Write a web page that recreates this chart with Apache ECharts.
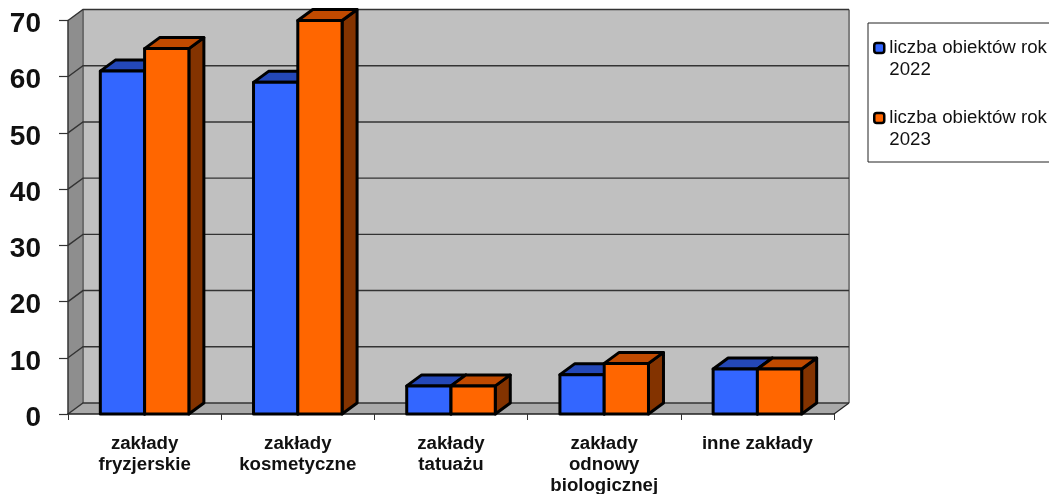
<!DOCTYPE html>
<html><head><meta charset="utf-8">
<style>html,body{margin:0;padding:0;background:#fff}#c{width:1049px;height:494px}</style>
<script src="https://cdn.jsdelivr.net/npm/echarts@6/dist/echarts.min.js"></script>
</head><body><div id="c"></div>
<script>
const categories = ['zakłady\nfryzjerskie','zakłady\nkosmetyczne','zakłady\ntatuażu','zakłady\nodnowy\nbiologicznej','inne zakłady'];
const values2022 = [61,59,5,7,8];
const values2023 = [65,70,5,9,8];
const gridValues = [0,10,20,30,40,50,60,70];
const name2022 = 'liczba obiektów rok\n2022';
const name2023 = 'liczba obiektów rok\n2023';
const DX = 15, DY = -11;
const FONT = '"Liberation Sans", Arial, sans-serif';

function extent(api){
  const band = api.size([1,0])[0];
  const a = api.coord([0,0]), b = api.coord([categories.length-1,0]), t = api.coord([0,70]);
  return {x0:a[0]-band/2, x1:b[0]+band/2, y0:a[1], yT:t[1]};
}
function poly(pts, fill, stroke, w){
  return {type:'polygon', shape:{points:pts}, style:{fill:fill, stroke:stroke||null, lineWidth:w||0, lineJoin:'round'}};
}
function line(pts, stroke, w){
  return {type:'polyline', shape:{points:pts}, style:{fill:null, stroke:stroke, lineWidth:w}};
}
function wallsItem(params, api){
  const e = extent(api);
  return {type:'group', children:[
    poly([[e.x0+DX,e.yT+DY],[e.x1+DX,e.yT+DY],[e.x1+DX,e.y0+DY],[e.x0+DX,e.y0+DY]], '#c0c0c0'),
    poly([[e.x0,e.yT],[e.x0+DX,e.yT+DY],[e.x0+DX,e.y0+DY],[e.x0,e.y0]], '#8e8e8e'),
    poly([[e.x0,e.y0],[e.x0+DX,e.y0+DY],[e.x1+DX,e.y0+DY],[e.x1,e.y0]], '#a9a9a9'),
    line([[e.x0+DX,e.yT+DY],[e.x0+DX,e.y0+DY]], '#6c6c6c', 2),
    line([[e.x1+DX,e.yT+DY],[e.x1+DX,e.y0+DY]], '#808080', 2),
    line([[e.x1,e.y0],[e.x1+DX,e.y0+DY]], '#222', 1.2)
  ]};
}
function gridItem(params, api){
  const e = extent(api);
  const y = api.coord([0,api.value(0)])[1];
  return line([[e.x0,y],[e.x0+DX,y+DY],[e.x1+DX,y+DY]], '#333', 1.4);
}
function barItem(idx, color, topCol, sideCol){
  return function(params, api){
    const cat = api.value(0), v = api.value(1);
    const band = api.size([1,0])[0];
    const bw = band * 0.289;
    const c = api.coord([cat,v]), z = api.coord([cat,0]);
    const l = c[0] - bw + idx*bw, r = l + bw, t = c[1], b = z[1];
    const S = '#000', W = 3;
    return {type:'group', children:[
      poly([[r,b],[r+DX,b+DY],[r+DX,t+DY],[r,t]], sideCol, S, W),
      poly([[l,t],[l+DX,t+DY],[r+DX,t+DY],[r,t]], topCol, S, W),
      poly([[l,t],[r,t],[r,b],[l,b]], color, S, W)
    ]};
  };
}
const chart = echarts.init(document.getElementById('c'), null, {renderer:'canvas'});
chart.setOption({
  animation:false,
  backgroundColor:'#fff',
  textStyle:{fontFamily:FONT},
  graphic:[{type:'rect', z:-1, shape:{x:868,y:23,width:200,height:139}, style:{fill:'#fff',stroke:'#222',lineWidth:1}}],
  grid:{left:68,right:215,top:20.5,bottom:80,containLabel:false,outerBoundsMode:'none'},
  xAxis:{type:'category',data:categories,z:1,
    axisLine:{show:true,lineStyle:{color:'#222',width:1.5}},
    axisTick:{show:true,alignWithLabel:false,length:6,lineStyle:{color:'#333',width:1}},
    axisLabel:{interval:0,margin:19,color:'#111',fontFamily:FONT,fontWeight:'bold',fontSize:18.67,lineHeight:21,hideOverlap:false}
  },
  yAxis:{type:'value',min:0,max:70,interval:10,z:1,
    axisLine:{show:true,lineStyle:{color:'#333',width:1.5}},
    axisTick:{show:true,length:9,lineStyle:{color:'#333',width:1.2}},
    splitLine:{show:false},
    axisLabel:{margin:27,color:'#111',fontFamily:FONT,fontWeight:'bold',fontSize:28,verticalAlign:'top',lineHeight:8}
  },
  legend:{orient:'vertical',left:873,top:15,padding:0,itemWidth:10,itemHeight:10,itemGap:4,
    icon:'roundRect',selectedMode:false,
    formatter:function(n){return ' \n'+n;},
    textStyle:{fontFamily:FONT,fontSize:18.67,color:'#111',lineHeight:22},
    data:[
      {name:name2022,itemStyle:{color:'#3366ff',borderColor:'#000',borderWidth:2.5}},
      {name:name2023,itemStyle:{color:'#ff6600',borderColor:'#000',borderWidth:2.5}}
    ]},
  series:[
    {type:'custom',silent:true,z:0,data:[0],renderItem:wallsItem,clip:false,legendHoverLink:false,encode:{x:0}},
    {type:'custom',silent:true,z:0,data:gridValues.map(v=>[v]),renderItem:gridItem,clip:false},
    {type:'custom',name:name2022,z:2,clip:false,itemStyle:{color:'#3366ff'},
      data:values2022.map((v,i)=>[i,v]),encode:{x:0,y:1},
      renderItem:barItem(0,'#3366ff','#2448b8','#1a3380')},
    {type:'custom',name:name2023,z:3,clip:false,itemStyle:{color:'#ff6600'},
      data:values2023.map((v,i)=>[i,v]),encode:{x:0,y:1},
      renderItem:barItem(1,'#ff6600','#c04a00','#833300')}
  ]
});
</script></body></html>
